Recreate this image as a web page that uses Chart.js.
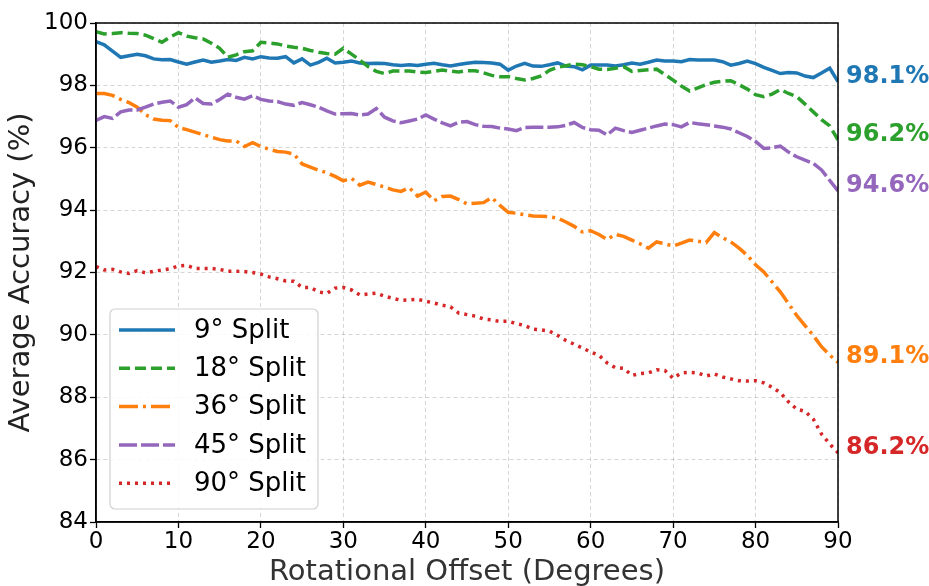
<!DOCTYPE html>
<html>
<head>
<meta charset="utf-8">
<script src="https://cdn.jsdelivr.net/npm/chart.js@4.4.1/dist/chart.umd.min.js"></script>
<style>
  html, body { margin: 0; padding: 0; background: #fff; }
</style>
</head>
<body>
<canvas id="accChart" width="929" height="586"></canvas>
<script>
// rotational offset in degrees (0..90)
const offsets = Array.from({length: 91}, (_, i) => i);

const split9 = [
  99.40, 99.30, 99.10, 98.90, 98.95, 99.00, 98.95, 98.85, 98.82, 98.83,
  98.75, 98.68, 98.75, 98.81, 98.74, 98.78, 98.83, 98.80, 98.90, 98.85,
  98.92, 98.88, 98.87, 98.92, 98.72, 98.85, 98.65, 98.74, 98.87, 98.72,
  98.74, 98.78, 98.72, 98.70, 98.71, 98.70, 98.66, 98.64, 98.66, 98.64,
  98.68, 98.71, 98.66, 98.62, 98.67, 98.71, 98.74, 98.73, 98.72, 98.68,
  98.49, 98.62, 98.71, 98.62, 98.61, 98.66, 98.72, 98.62, 98.60, 98.50,
  98.65, 98.65, 98.65, 98.62, 98.66, 98.72, 98.68, 98.74, 98.81, 98.78,
  98.78, 98.76, 98.83, 98.81, 98.81, 98.81, 98.76, 98.65, 98.70, 98.78,
  98.70, 98.58, 98.48, 98.38, 98.41, 98.40, 98.30, 98.25, 98.40, 98.55,
  98.12
];
const split18 = [
  99.72, 99.65, 99.66, 99.69, 99.67, 99.66, 99.61, 99.50, 99.38, 99.55,
  99.69, 99.58, 99.53, 99.49, 99.35, 99.19, 98.90, 98.98, 99.08, 99.11,
  99.38, 99.36, 99.33, 99.26, 99.22, 99.19, 99.12, 99.06, 99.02, 99.00,
  99.19, 99.00, 98.81, 98.60, 98.45, 98.38, 98.46, 98.46, 98.46, 98.43,
  98.41, 98.45, 98.49, 98.46, 98.43, 98.47, 98.47, 98.40, 98.32, 98.28,
  98.28, 98.22, 98.17, 98.22, 98.30, 98.48, 98.58, 98.63, 98.68, 98.66,
  98.60, 98.52, 98.51, 98.55, 98.60, 98.45, 98.48, 98.50, 98.52, 98.35,
  98.17, 97.98, 97.82, 97.92, 98.02, 98.10, 98.13, 98.15, 98.02, 97.88,
  97.70, 97.64, 97.72, 97.87, 97.74, 97.64, 97.40, 97.15, 96.90, 96.70,
  96.25
];
const split36 = [
  97.74, 97.74, 97.68, 97.55, 97.45, 97.30, 97.06, 96.92, 96.88, 96.87,
  96.65, 96.58, 96.50, 96.42, 96.34, 96.26, 96.22, 96.22, 96.04, 96.16,
  96.04, 95.95, 95.88, 95.86, 95.80, 95.48, 95.38, 95.28, 95.20, 95.08,
  94.94, 95.02, 94.80, 94.90, 94.82, 94.74, 94.65, 94.60, 94.72, 94.45,
  94.58, 94.30, 94.44, 94.45, 94.34, 94.20, 94.22, 94.24, 94.40, 94.15,
  93.93, 93.90, 93.85, 93.81, 93.80, 93.79, 93.74, 93.62, 93.48, 93.30,
  93.34, 93.22, 93.06, 93.22, 93.16, 93.04, 92.92, 92.78, 92.98, 92.92,
  92.85, 92.94, 93.04, 93.00, 92.96, 93.28, 93.12, 92.98, 92.78, 92.55,
  92.25, 92.02, 91.70, 91.38, 91.00, 90.62, 90.30, 89.98, 89.62, 89.35,
  89.12
];
const split45 = [
  96.88, 97.00, 96.94, 97.15, 97.21, 97.21, 97.30, 97.40, 97.46, 97.50,
  97.30, 97.38, 97.60, 97.42, 97.40, 97.55, 97.72, 97.62, 97.56, 97.67,
  97.55, 97.50, 97.48, 97.40, 97.36, 97.45, 97.38, 97.30, 97.18, 97.08,
  97.09, 97.10, 97.05, 97.08, 97.26, 96.98, 96.86, 96.80, 96.86, 96.92,
  97.05, 96.92, 96.80, 96.70, 96.82, 96.84, 96.74, 96.69, 96.68, 96.63,
  96.60, 96.55, 96.65, 96.66, 96.66, 96.66, 96.67, 96.72, 96.81, 96.65,
  96.58, 96.56, 96.41, 96.63, 96.55, 96.49, 96.56, 96.63, 96.70, 96.76,
  96.74, 96.67, 96.81, 96.77, 96.74, 96.70, 96.66, 96.60, 96.48, 96.36,
  96.20, 95.98, 96.00, 96.05, 95.86, 95.71, 95.60, 95.50, 95.29, 94.95,
  94.62
];
const split90 = [
  92.19, 92.08, 92.10, 92.02, 91.97, 92.06, 91.99, 92.04, 92.08, 92.12,
  92.21, 92.23, 92.13, 92.13, 92.13, 92.10, 92.04, 92.04, 92.03, 92.00,
  91.95, 91.86, 91.80, 91.73, 91.72, 91.52, 91.52, 91.38, 91.33, 91.50,
  91.52, 91.44, 91.28, 91.31, 91.34, 91.24, 91.17, 91.11, 91.12, 91.14,
  91.08, 91.02, 90.95, 90.90, 90.70, 90.65, 90.60, 90.51, 90.48, 90.43,
  90.44, 90.36, 90.30, 90.18, 90.16, 90.12, 89.98, 89.82, 89.70, 89.58,
  89.45, 89.35, 89.10, 88.95, 88.93, 88.70, 88.76, 88.78, 88.88, 88.86,
  88.61, 88.78, 88.80, 88.78, 88.68, 88.75, 88.65, 88.59, 88.53, 88.52,
  88.53, 88.46, 88.32, 88.15, 87.85, 87.62, 87.55, 87.30, 86.82, 86.50,
  86.22
];

const seriesNames = ['9° Split', '18° Split', '36° Split', '45° Split', '90° Split'];
const endLabels = ['98.1%', '96.2%', '89.1%', '94.6%', '86.2%'];
const yTicks = [84, 86, 88, 90, 92, 94, 96, 98, 100];
const xTicks = [0, 10, 20, 30, 40, 50, 60, 70, 80, 90];

const colors = ['#1f77b4', '#2ca02c', '#ff7f0e', '#9467bd', '#d62728'];
const dashes = [[], [11, 5], [19, 5, 3, 5], [18, 4], [3, 5]];
const allSeries = [split9, split18, split36, split45, split90];

const toPoints = arr => arr.map((v, i) => ({x: offsets[i], y: v}));

const FONT = '"DejaVu Sans", "Noto Sans", sans-serif';

const extras = {
  id: 'extras',
  afterDatasetsDraw(chart) {
    const {ctx, chartArea: a, scales: {y}} = chart;
    ctx.save();

    // top / right spines
    ctx.strokeStyle = '#000';
    ctx.lineWidth = 1.5;
    ctx.strokeRect(a.left, a.top, a.right - a.left, a.bottom - a.top);

    // final value labels at the right
    ctx.font = 'bold 24px ' + FONT;
    ctx.textAlign = 'left';
    ctx.textBaseline = 'alphabetic';
    chart.data.datasets.forEach((ds, i) => {
      const last = ds.data[ds.data.length - 1];
      ctx.fillStyle = ds.borderColor;
      ctx.fillText(endLabels[i], a.right + 8, y.getPixelForValue(last.y) + 1);
    });

    // legend in lower left corner
    const bx = a.left + 14, bw = 208, bh = 200;
    const by = a.bottom - 13 - bh;
    ctx.beginPath();
    ctx.roundRect(bx, by, bw, bh, 5);
    ctx.fillStyle = 'rgba(255,255,255,0.85)';
    ctx.fill();
    ctx.strokeStyle = '#d0d0d0';
    ctx.lineWidth = 1.2;
    ctx.stroke();

    ctx.font = '26px ' + FONT;
    ctx.textBaseline = 'middle';
    chart.data.datasets.forEach((ds, i) => {
      const ly = by + 21 + i * 38.3;
      ctx.beginPath();
      ctx.setLineDash(ds.borderDash);
      ctx.lineCap = 'butt';
      ctx.strokeStyle = ds.borderColor;
      ctx.lineWidth = ds.borderWidth;
      ctx.moveTo(bx + 9, ly);
      ctx.lineTo(bx + 65, ly);
      ctx.stroke();
      ctx.setLineDash([]);
      ctx.fillStyle = '#000';
      ctx.fillText(ds.label, bx + 84, ly + 1);
    });
    ctx.restore();
  }
};

new Chart(document.getElementById('accChart'), {
  type: 'line',
  data: {
    datasets: allSeries.map((s, i) => ({
      label: seriesNames[i],
      data: toPoints(s),
      borderColor: colors[i],
      backgroundColor: colors[i],
      borderDash: dashes[i],
      borderWidth: 3.5,
      borderCapStyle: 'butt',
      pointRadius: 0,
      tension: 0,
      fill: false,
      order: 5 - i
    }))
  },
  options: {
    responsive: false,
    animation: false,
    devicePixelRatio: 1,
    layout: { padding: { top: 23, right: 91, left: 0, bottom: 0 } },
    plugins: {
      legend: { display: false },
      tooltip: { enabled: false }
    },
    scales: {
      x: {
        type: 'linear',
        min: 0,
        max: 90,
        afterBuildTicks: s => { s.ticks = xTicks.map(v => ({value: v})); },
        afterFit: s => { s.height = 64; },
        ticks: {
          font: { family: FONT, size: 23 },
          color: '#000',
          padding: 0,
          maxRotation: 0
        },
        grid: {
          color: 'rgba(0,0,0,0.16)',
          tickColor: '#000',
          tickLength: 6,
          tickWidth: 1.3
        },
        border: { color: '#000', width: 1.5, dash: [4, 3] },
        title: {
          display: true,
          text: 'Rotational Offset (Degrees)',
          font: { family: FONT, size: 29 },
          color: '#333',
          padding: { top: 0, bottom: -4 }
        }
      },
      y: {
        min: 84,
        max: 100,
        afterBuildTicks: s => { s.ticks = yTicks.map(v => ({value: v})); },
        afterFit: s => { s.width = 96; },
        ticks: {
          font: { family: FONT, size: 23 },
          color: '#000',
          padding: 2
        },
        grid: {
          color: 'rgba(0,0,0,0.16)',
          tickColor: '#000',
          tickLength: 6,
          tickWidth: 1.3
        },
        border: { color: '#000', width: 1.5, dash: [4, 3] },
        title: {
          display: true,
          text: 'Average Accuracy (%)',
          font: { family: FONT, size: 29 },
          color: '#222',
          padding: { top: 4, bottom: 0 }
        }
      }
    }
  },
  plugins: [extras]
});
</script>
</body>
</html>
